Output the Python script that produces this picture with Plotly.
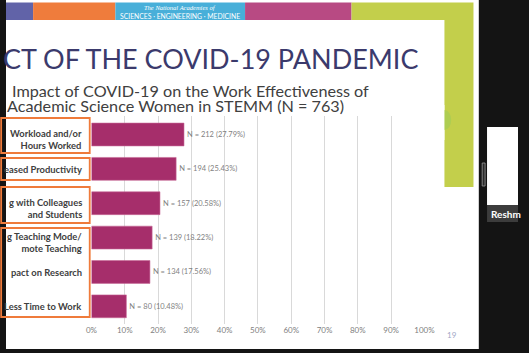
import plotly.graph_objects as go

W, H = 529, 353

# ---- data ----
categories = ["Workload and/or<br>Hours Worked", "eased Productivity",
              "g with Colleagues<br>and Students", "g Teaching Mode/<br>mote Teaching",
              "pact on Research", "Less Time to Work"]
counts = [212, 194, 157, 139, 134, 80]
percents = [27.79, 25.43, 20.58, 18.22, 17.56, 10.48]
tick_vals = [0, 10, 20, 30, 40, 50, 60, 70, 80, 90, 100]
tick_text = [f"{v}%" for v in tick_vals]
bar_text = [f"N = {n} ({p:.2f}%)" for n, p in zip(counts, percents)]
cat_ids = [f"c{i}" for i in range(len(categories))]

def fx(x):
    return x / W

def fy(y):
    return 1 - y / H

fig = go.Figure()
fig.add_trace(go.Bar(
    x=percents, y=cat_ids, orientation="h",
    marker=dict(color="#a62e6b", line=dict(color="#c86a97", width=0.6)),
    width=0.665,
    text=bar_text, textposition="outside",
    textfont=dict(family="Lato", size=7.5, color="#7f7f7f"),
    cliponaxis=False, hoverinfo="skip",
))

shapes = []
def rect(x0, y0, x1, y1, fill, line_color=None, lw=0, layer="below"):
    shapes.append(dict(type="rect", xref="paper", yref="paper",
                       x0=fx(x0), x1=fx(x1), y0=fy(y1), y1=fy(y0),
                       fillcolor=fill, layer=layer,
                       line=dict(color=line_color or fill, width=lw)))

# slide background
rect(0, 0, 488.5, 349, "#ffffff")
# top colour band
rect(0, 2.5, 28, 20, "#6163a8")
rect(28, 2.5, 113, 20, "#ef7c3c")
rect(113, 2.5, 247, 20, "#48afd9")
rect(247, 2.5, 357, 20, "#b84a83")
rect(357, 2.5, 483, 20, "#c3cf4b")
rect(453, 20, 483, 187, "#c3cf4b")
# faint virus motif on green strip
shapes.append(dict(type="circle", xref="paper", yref="paper",
                   x0=fx(446), x1=fx(460), y0=fy(130), y1=fy(110),
                   fillcolor="#aecd52", line=dict(width=0), layer="below"))
rect(440, 105, 453, 140, "#ffffff")
# video panel on the right
rect(497, 127, 529, 205, "#ffffff")
rect(497, 205, 529, 222, "#3c3c3c")
rect(492, 163, 495, 186, "#2a2a2a", line_color="#9a9a9a", lw=0.8)

# orange boxes around category labels (above)
for (y0, y1) in [(118, 153), (158, 180), (187, 223), (228, 317)]:
    shapes.append(dict(type="rect", xref="paper", yref="paper",
                       x0=fx(-5), x1=fx(86.5), y0=fy(y1), y1=fy(y0),
                       line=dict(color="#ef7b3b", width=1.8),
                       fillcolor="rgba(0,0,0,0)", layer="above"))

annotations = []
# title and subtitle
annotations.append(dict(xref="paper", yref="paper", x=fx(428), y=fy(58),
                        xanchor="right", yanchor="middle", showarrow=False,
                        text="CT OF THE COVID-19 PANDEMIC",
                        font=dict(family="Lato", size=27, color="#3b3a6c")))
annotations.append(dict(xref="paper", yref="paper", x=fx(4), y=fy(90),
                        xanchor="left", yanchor="middle", showarrow=False,
                        text="Impact of COVID-19 on the Work Effectiveness of",
                        font=dict(family="Lato", size=16.2, color="#404040")))
annotations.append(dict(xref="paper", yref="paper", x=fx(-1), y=fy(105.5),
                        xanchor="left", yanchor="middle", showarrow=False,
                        text="Academic Science Women in STEMM (N = 763)",
                        font=dict(family="Lato", size=16.2, color="#404040")))
# header band text
annotations.append(dict(xref="paper", yref="paper", x=fx(180), y=fy(7),
                        xanchor="center", yanchor="middle", showarrow=False,
                        text="<i>The National Academies of</i>",
                        font=dict(family="Liberation Serif", size=6.5, color="#ffffff")))
annotations.append(dict(xref="paper", yref="paper", x=fx(180), y=fy(16),
                        xanchor="center", yanchor="middle", showarrow=False,
                        text="SCIENCES · ENGINEERING · MEDICINE",
                        font=dict(family="Lato", size=6.8, color="#ffffff")))
# category labels
for cid, lab in zip(cat_ids, categories):
    two = "<br>" in lab
    annotations.append(dict(xref="paper", yref="y", x=fx(80.5), y=cid,
                            xanchor="right", yanchor="middle", align="right",
                            showarrow=False, yshift=-5 if two else -0.5,
                            text=f"<b>{lab}</b>",
                            font=dict(family="Lato", size=9.4, color="#404040")))
# page number
annotations.append(dict(xref="paper", yref="paper", x=fx(461), y=fy(335),
                        xanchor="center", yanchor="middle", showarrow=False,
                        text="19", font=dict(family="Lato", size=8, color="#a0a6c6")))
# video name tag
annotations.append(dict(xref="paper", yref="paper", x=fx(499.5), y=fy(213.5),
                        xanchor="left", yanchor="middle", showarrow=False,
                        text="<b>Reshm</b>", font=dict(family="Lato", size=10, color="#ffffff")))

fig.update_layout(
    width=W, height=H,
    margin=dict(l=0, r=0, t=0, b=0),
    paper_bgcolor="#141414",
    plot_bgcolor="rgba(0,0,0,0)",
    showlegend=False,
    shapes=shapes,
    annotations=annotations,
    xaxis=dict(domain=[fx(88.3), fx(432.3)], range=[0, 100],
               tickvals=tick_vals, ticktext=tick_text,
               showgrid=True, gridcolor="#d9d9d9", gridwidth=1,
               zeroline=False, showline=False, ticks="",
               tickfont=dict(family="Lato", size=8, color="#808080"),
               fixedrange=True),
    yaxis=dict(domain=[fy(323.5), fy(116)], categoryorder="array",
               categoryarray=cat_ids, autorange="reversed",
               showticklabels=False, showgrid=False, zeroline=False,
               showline=False, ticks="", fixedrange=True),
)

fig.write_html("out.html")
